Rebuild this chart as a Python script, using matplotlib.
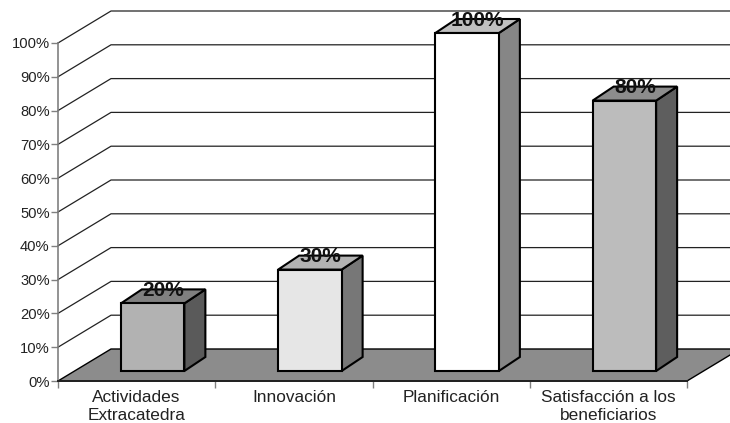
import matplotlib
matplotlib.use("Agg")
import matplotlib.pyplot as plt
from matplotlib.patches import Polygon

categories = ["Actividades\nExtracatedra", "Innovación", "Planificación", "Satisfacción a los\nbeneficiarios"]
values = [20, 30, 100, 80]
front_colors = ["#b2b2b2", "#e6e6e6", "#ffffff", "#bcbcbc"]
top_colors = ["#808080", "#b3b3b3", "#c0c0c0", "#8c8c8c"]
side_colors = ["#5a5a5a", "#777777", "#868686", "#5e5e5e"]
ticks = list(range(0, 101, 10))

plt.rcParams["font.family"] = ["Liberation Sans", "DejaVu Sans"]
W, H = 730, 423
fig = plt.figure(figsize=(W / 100, H / 100), dpi=100, facecolor="white")
x0, x1, y0, y1 = 58, 687, 381, 43
ax = fig.add_axes([x0 / W, 1 - y0 / H, (x1 - x0) / W, (y0 - y1) / H])
ax.set_xlim(0, 4)
ax.set_ylim(0, 100)
ax.patch.set_visible(False)

# 3D depth, in data units
floor_dx, floor_dy = 53 / (x1 - x0) * 4, 32 / (y0 - y1) * 100
bar_w = 63.5 / (x1 - x0) * 4
bar_off_x = 16 / (x1 - x0) * 4
bar_off_y = 10 / (y0 - y1) * 100
bar_dx, bar_dy = 21 / (x1 - x0) * 4, 14 / (y0 - y1) * 100

ax.add_patch(Polygon([(0, 0), (4, 0), (4 + floor_dx, floor_dy), (floor_dx, floor_dy)],
                     closed=True, fc="#8c8c8c", ec="black", lw=1.0, clip_on=False, zorder=1))
for t in ticks[1:]:
    ax.plot([0, floor_dx, 4 + floor_dx], [t, t + floor_dy, t + floor_dy],
            color="#222222", lw=0.9, clip_on=False, zorder=2)

for i, v in enumerate(values):
    cx = i + 0.5 + bar_off_x
    l, r = cx - bar_w / 2, cx + bar_w / 2
    b, t = bar_off_y, bar_off_y + v
    kw = dict(closed=True, ec="black", lw=1.5, clip_on=False, zorder=3, joinstyle="miter")
    ax.add_patch(Polygon([(r, b), (r + bar_dx, b + bar_dy), (r + bar_dx, t + bar_dy), (r, t)], fc=side_colors[i], **kw))
    ax.add_patch(Polygon([(l, t), (r, t), (r + bar_dx, t + bar_dy), (l + bar_dx, t + bar_dy)], fc=top_colors[i], **kw))
    ax.add_patch(Polygon([(l, b), (r, b), (r, t), (l, t)], fc=front_colors[i], **kw))
    ax.annotate(f"{v}%", xy=(cx + bar_dx / 2, t + bar_dy), xytext=(0, -1), textcoords="offset points",
                ha="center", va="center", fontsize=15, fontweight="bold", color="#111111",
                zorder=4, annotation_clip=False)

for s in ["top", "right"]:
    ax.spines[s].set_visible(False)
ax.spines["left"].set_color("#808080")
ax.spines["left"].set_linewidth(1.2)
ax.spines["bottom"].set_color("#222222")
ax.spines["bottom"].set_linewidth(1.4)
ax.spines["bottom"].set_zorder(2.5)

ax.set_yticks(ticks)
ax.set_yticklabels([f"{t}%" for t in ticks], fontsize=10.6, color="#222222")
ax.tick_params(axis="y", length=5, width=1, color="#808080", pad=1)
ax.set_xticks(range(5))
ax.set_xticklabels([])
ax.tick_params(axis="x", length=5, width=1, color="#808080")
for i, c in enumerate(categories):
    ax.annotate(c, xy=(i + 0.5, 0), xycoords="data", xytext=(0, -6.5), textcoords="offset points",
                ha="center", va="top", fontsize=12.4, color="#222222", linespacing=1.25)
fig.savefig("out.png", dpi=100)
